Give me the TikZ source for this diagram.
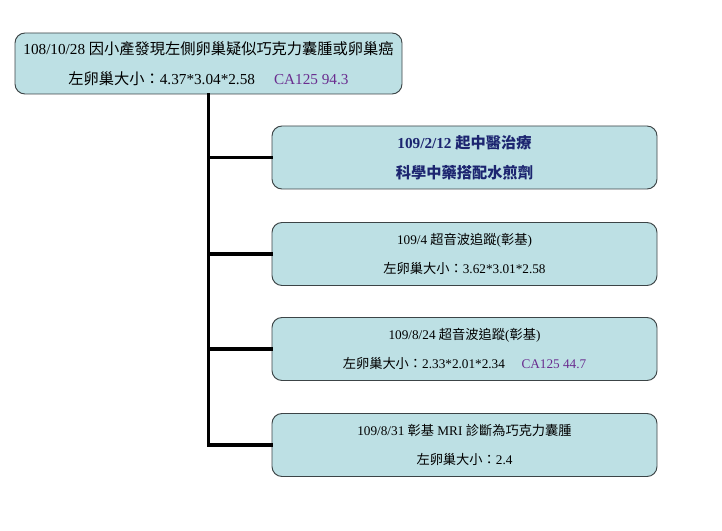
\documentclass[tikz,border=0pt]{standalone}
\usepackage{fontspec}
\setmainfont{Liberation Serif}
\newfontfamily\cjk{Noto Sans CJK TC}
\usetikzlibrary{calc}

\definecolor{boxfill}{HTML}{BDE0E4}
\definecolor{boxline}{HTML}{3C4446}
\definecolor{navy}{HTML}{1C2570}
\definecolor{camark}{HTML}{6A2D8F}

\begin{document}
\begin{tikzpicture}[
  event/.style={draw=boxline, line width=0.8pt, fill=boxfill, rounded corners=0.3cm,
                minimum width=11.55cm, minimum height=1.89cm, align=center,
                font=\fontsize{11.3pt}{24.5pt}\selectfont},
  branch/.style={line width=2.6pt, line cap=rect},
  ca/.style={text=camark},
]
  \useasboundingbox (0,0) rectangle (21.66,15.9);

  % ===================== TOP: diagnosis =====================
  \node[event, minimum width=11.61cm, minimum height=1.83cm,
        font=\fontsize{13pt}{25.6pt}\selectfont] (diag) at (6.255,13.995)
    {108/10/28 {\cjk 因小產發現左側卵巢疑似巧克力囊腫或卵巢癌}\\
     {\cjk 左卵巢大小：}4.37*3.04*2.58\quad\ {\color{camark}CA125 94.3}};

  % ===================== RIGHT: follow-up =====================
  \node[event, font=\fontsize{13pt}{25.6pt}\selectfont\bfseries, text=navy]
    (tcm) at (13.935,11.175)
    {109/2/12 {\cjk 起中醫治療}\\ {\cjk 科學中藥搭配水煎劑}};
  \node[event] (us1) at (13.935,8.28)
    {109/4 {\cjk 超音波追蹤}({\cjk 彰基})\\
     {\cjk 左卵巢大小：}3.62*3.01*2.58};
  \node[event] (us2) at (13.935,5.43)
    {109/8/24 {\cjk 超音波追蹤}({\cjk 彰基})\\
     {\cjk 左卵巢大小：}2.33*2.01*2.34\quad\ {\color{camark}CA125 44.7}};
  \node[event] (mri) at (13.935,2.55)
    {109/8/31 {\cjk 彰基} MRI {\cjk 診斷為巧克力囊腫}\\
     {\cjk 左卵巢大小：}2.4};

  % connectors
  \draw[branch] (diag.south) |- (mri.west);
  \draw[branch] (diag.south |- tcm.west) -- (tcm.west);
  \draw[branch] (diag.south |- us1.west) -- (us1.west);
  \draw[branch] (diag.south |- us2.west) -- (us2.west);
\end{tikzpicture}
\end{document}
